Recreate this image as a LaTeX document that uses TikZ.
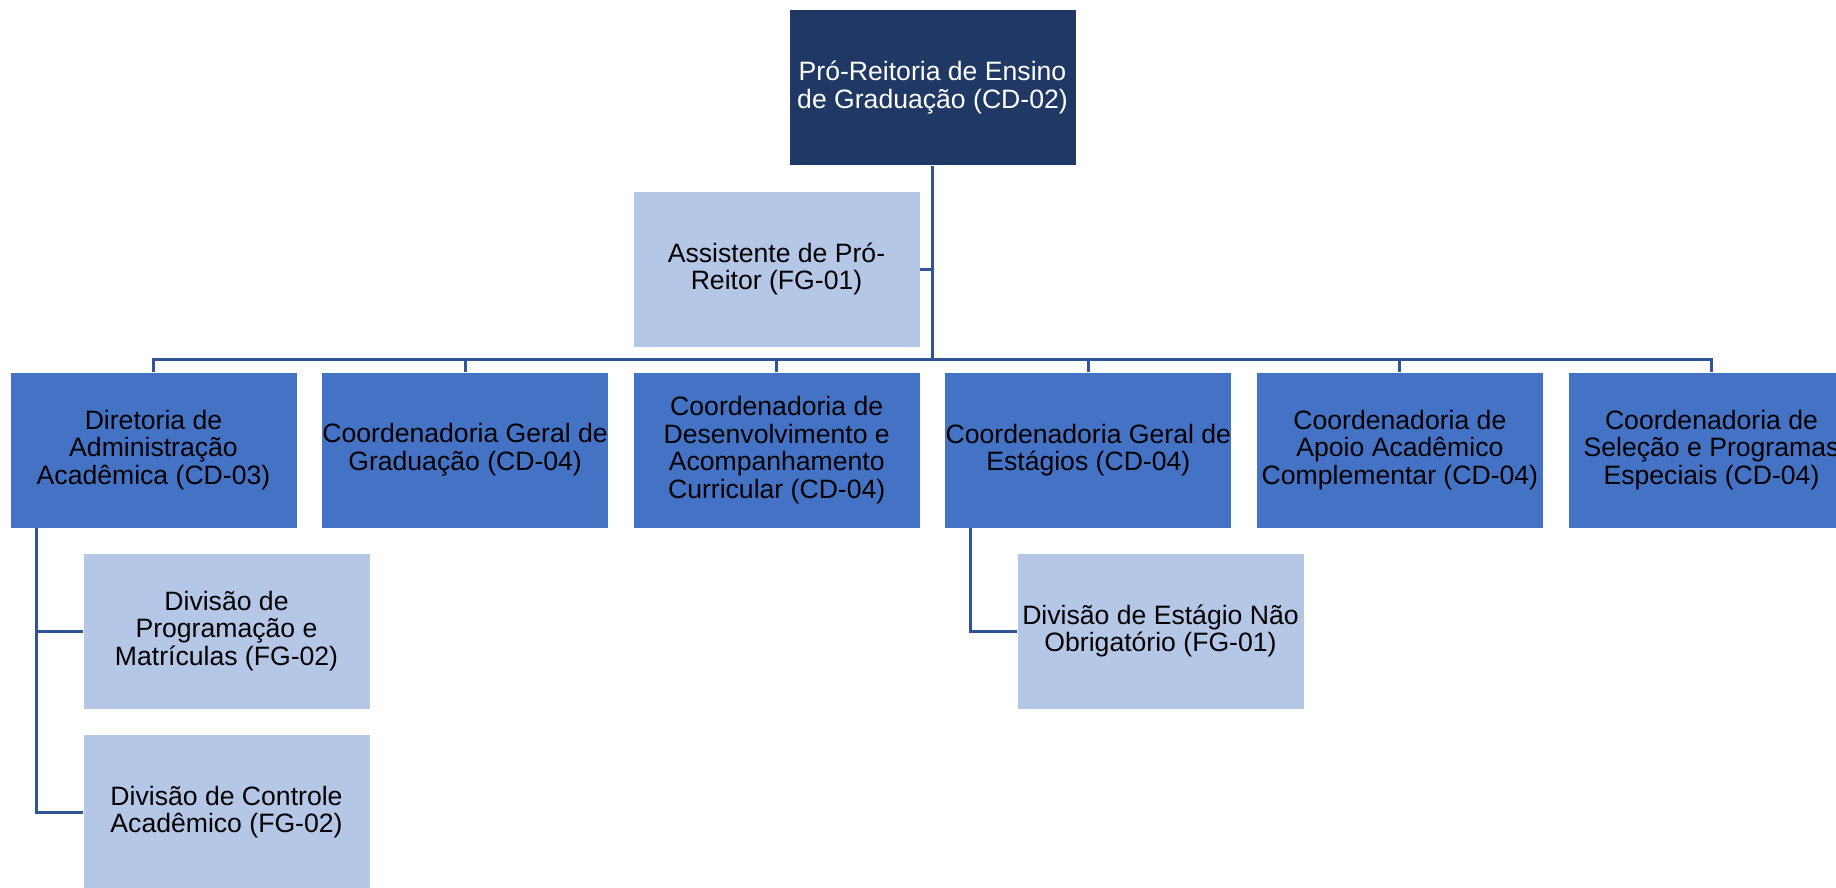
\documentclass[tikz,border=0pt]{standalone}
\usepackage{fontspec}
\setmainfont{Liberation Sans}
\definecolor{azulescuro}{HTML}{203864}
\definecolor{azulmedio}{HTML}{4472C4}
\definecolor{azulclaro}{HTML}{B4C7E7}
\definecolor{azullinha}{HTML}{2F5597}
\begin{document}
\begin{tikzpicture}[x=0.5pt,y=-0.5pt,
    caixa/.style={rectangle, minimum width=143.5pt, minimum height=78pt, inner sep=0pt,
        align=center, font=\fontsize{13.3}{13.85}\selectfont, draw=white, line width=0.4pt},
    chefia/.style={caixa, fill=azulescuro, text=white},
    coord/.style={caixa, fill=azulmedio},
    divisao/.style={caixa, fill=azulclaro},
    conector/.style={draw=azullinha, line width=1.5pt}]
    \useasboundingbox (0,0) rectangle (1836,888);
    % topo do organograma
    \node[chefia] (topo) at (932.5,87.5) {Pró-Reitoria de Ensino\\de Graduação (CD-02)};
    \node[divisao] (assist) at (776.5,269) {Assistente de Pró-\\Reitor (FG-01)};
    \coordinate (barra) at (932.5,359);
    % segunda linha: diretoria e coordenadorias
    \foreach \i/\txt in {0/{Diretoria de\\Administração\\Acadêmica (CD-03)},
                         1/{Coordenadoria Geral de\\Graduação (CD-04)},
                         2/{Coordenadoria de\\Desenvolvimento e\\Acompanhamento\\Curricular (CD-04)},
                         3/{Coordenadoria Geral de\\Estágios (CD-04)},
                         4/{Coordenadoria de\\Apoio Acadêmico\\Complementar (CD-04)},
                         5/{Coordenadoria de\\Seleção e Programas\\Especiais (CD-04)}}{
        \node[coord] (c\i) at (153.5+311.6*\i,450) {\txt};
    }
    % divisões
    \node[divisao] (div1) at (226.5,631) {Divisão de\\Programação e\\Matrículas (FG-02)};
    \node[divisao] (div2) at (226.5,812) {Divisão de Controle\\Acadêmico (FG-02)};
    \node[divisao] (div3) at (1160.5,631) {Divisão de Estágio Não\\Obrigatório (FG-01)};
    % ligações
    \draw[conector] (topo) -- (barra);
    \draw[conector] (assist.east) -- (assist.east -| topo.south);
    \foreach \i in {0,...,5}{
        \draw[conector] (barra) -| (c\i.north);
    }
    \draw[conector] ([xshift=13.5pt]c0.south west) |- (div1.west);
    \draw[conector] ([xshift=13.5pt]c0.south west) |- (div2.west);
    \draw[conector] ([xshift=13pt]c3.south west) |- (div3.west);
\end{tikzpicture}
\end{document}
